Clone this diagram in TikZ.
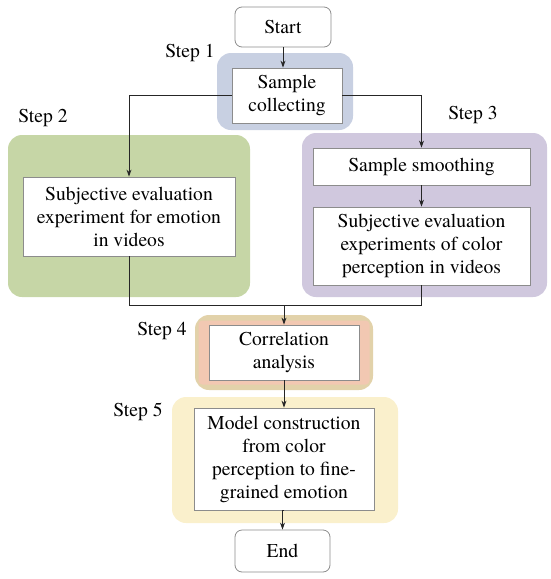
\documentclass[tikz,border=0pt]{standalone}
\usepackage{fontspec}
\setmainfont{texgyretermes}[Extension=.otf, UprightFont=*-regular, BoldFont=*-bold]
\usetikzlibrary{arrows.meta, positioning, calc}

\definecolor{stepblue}{HTML}{C8D0E2}
\definecolor{stepgreen}{HTML}{C6D6A6}
\definecolor{steppurple}{HTML}{D0C8DE}
\definecolor{steptan}{HTML}{E2D2AA}
\definecolor{stepsalmon}{HTML}{F2C8B2}
\definecolor{stepyellow}{HTML}{FAF0CC}

\tikzset{
  every node/.style={font=\rmfamily\fontsize{19.6}{23}\selectfont},
  panel/.style={
    rounded corners=14pt, draw=none, inner sep=0pt
  },
  card/.style={
    draw=black!45, line width=0.8pt, fill=white,
    align=center, inner sep=0pt, text=black
  },
  terminal/.style={
    card, rounded corners=7pt
  },
  steplabel/.style={inner sep=0pt, text=black},
  arr/.style={-{Stealth[length=7pt,width=5pt]}, line width=0.9pt, draw=black!85},
  wire/.style={line width=0.9pt, draw=black!85},
}

\begin{document}
\begin{tikzpicture}[x=1pt, y=-1pt]
    \useasboundingbox (0,0) rectangle (550,579);

    % Coloured step panels
    \node[panel, fill=stepblue, minimum width=136pt, minimum height=77pt] (panelA) at (285,91.5) {};
    \node[panel, fill=stepgreen, minimum width=242pt, minimum height=162pt] (panelB) at (129,216) {};
    \node[panel, fill=steppurple, minimum width=245pt, minimum height=164pt] (panelC) at (424.5,215) {};
    \node[panel, fill=steptan, minimum width=178pt, minimum height=75pt] (panelD) at (284,352.5) {};
    \node[fill=stepsalmon, minimum width=171pt, minimum height=64pt, inner sep=0pt,
      rounded corners=4pt] (panelDin) at (284,352.5) {};
    \node[panel, fill=stepyellow, minimum width=226pt, minimum height=126pt] (panelE) at (285,460) {};

    % Step labels
    \node[steplabel] (labA) at (190,53) {Step 1};
    \node[steplabel] (labB) at (43,118) {Step 2};
    \node[steplabel] (labC) at (473,115) {Step 3};
    \node[steplabel] (labD) at (162,331) {Step 4};
    \node[steplabel] (labE) at (138,412) {Step 5};

    % Main objects
    \node[terminal, minimum width=96pt, minimum height=40pt] (start) at (283,27) {Start};
    \node[card, minimum width=110pt, minimum height=55pt] (collect) at (287,95.5)
      {Sample\\collecting};
    \node[card, minimum width=212pt, minimum height=79pt] (emotion) at (129,216.5)
      {Subjective evaluation\\experiment for emotion\\in videos};
    \node[card, minimum width=217pt, minimum height=37pt] (smooth) at (421.5,166.5)
      {Sample smoothing};
    \node[card, minimum width=217pt, minimum height=78pt] (colour) at (421.5,246)
      {Subjective evaluation\\experiments of color\\perception in videos};
    \node[card, minimum width=150pt, minimum height=55pt] (corr) at (284,352.5)
      {Correlation\\analysis};
    \node[card, minimum width=180pt, minimum height=102pt] (model) at (284,459)
      {Model construction\\from color\\perception to fine-\\grained emotion};
    \node[terminal, minimum width=95pt, minimum height=42pt] (end) at (282.5,551) {End};

    \coordinate (merge) at (284,305);

    % Connectors
    \draw[arr] (start.south) -- (start.south |- collect.north);
    \draw[arr] (collect.west) -| (emotion.north);
    \draw[arr] (collect.east) -| (smooth.north);
    \draw[arr] (smooth) -- (colour);
    \draw[wire] (emotion.south) |- (merge);
    \draw[wire] (colour.south) |- (merge);
    \draw[arr] (merge) -- (corr.north);
    \draw[arr] (corr) -- (model);
    \draw[arr] (model.south) -- (model.south -| end.north) -- (end.north);

\end{tikzpicture}
\end{document}
